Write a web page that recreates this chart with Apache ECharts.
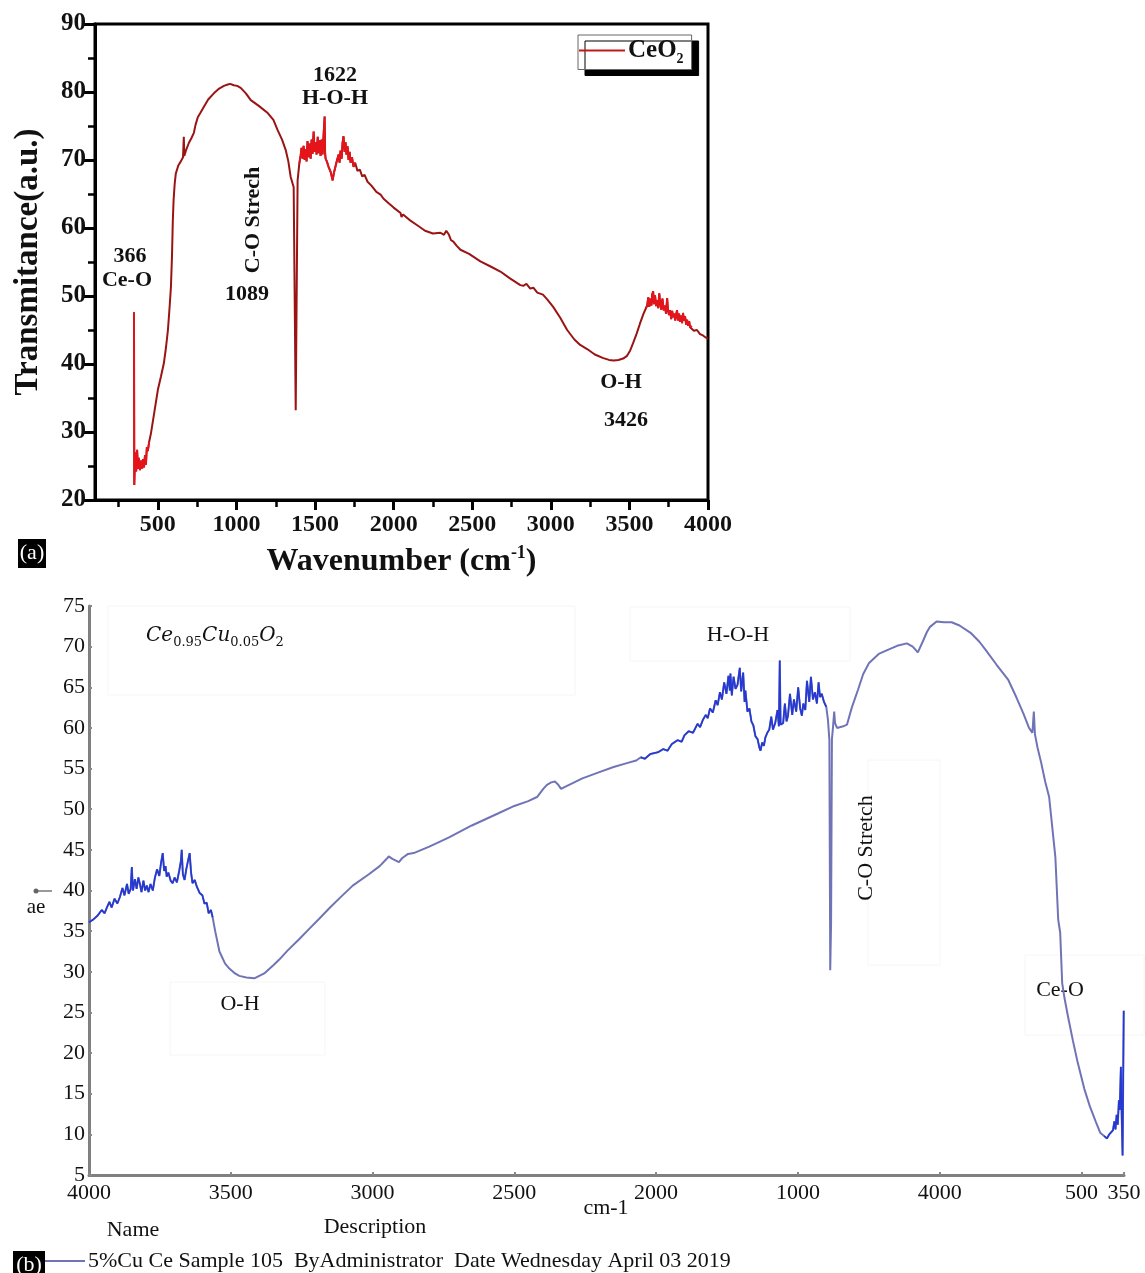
<!DOCTYPE html>
<html><head><meta charset="utf-8">
<script src="https://cdn.jsdelivr.net/npm/echarts@6/dist/echarts.min.js"></script>
<style>html,body{margin:0;padding:0;background:#fff}#c{width:1145px;height:1273px}</style>
</head><body><div id="c"></div>
<script>
// ---------- DATA ----------
// Panel (a): CeO2 spectrum  [wavenumber, transmittance]
const ceO2Points = [
[348,47.6],[350,22.2],[355,27.0],[362,24.2],[368,27.4],[373,24.6],[379,26.2],[386,24.4],[392,25.8],[400,24.6],
[405,26.0],[412,24.8],[418,26.6],[424,25.2],[430,27.8],[436,27.2],[445,28.6],[456,29.8],[478,33.0],[500,36.2],
[520,38.2],[538,40.1],[552,42.5],[564,45.0],[575,48.5],[583,51.3],[590,56.0],[595,61.0],[600,64.1],[607,66.5],
[614,68.0],[630,69.2],[646,69.8],[660,70.4],[665,73.4],[668,70.6],[680,71.5],[697,72.5],[713,73.2],[729,74.0],
[740,75.2],[754,76.3],[770,76.9],[792,77.8],[820,78.9],[856,79.8],[890,80.5],[920,80.9],[945,81.1],[960,81.2],
[983,81.0],[1005,80.9],[1027,80.6],[1060,79.8],[1091,78.8],[1140,78.0],[1199,76.9],[1235,75.9],[1262,74.4],[1290,73.0],
[1313,71.5],[1330,69.8],[1345,67.5],[1364,66.0],[1377,33.2],[1389,67.0],[1400,69.5],[1408,70.6],[1414,71.8],[1421,70.2],
[1427,72.1],[1434,70.0],[1440,71.6],[1446,69.8],[1452,72.8],[1459,70.4],[1465,72.4],[1472,70.2],[1478,73.0],[1484,70.9],
[1491,74.2],[1497,71.2],[1504,72.6],[1510,70.8],[1517,73.4],[1523,71.0],[1529,72.9],[1535,70.6],[1542,73.0],[1548,70.8],
[1555,74.0],[1561,76.4],[1564,71.0],[1567,70.2],[1575,69.8],[1586,69.0],[1600,68.2],[1612,67.0],[1620,68.1],[1631,68.0],
[1640,70.0],[1650,70.8],[1656,69.6],[1662,71.4],[1669,70.2],[1675,72.5],[1681,73.5],[1688,71.2],[1694,72.6],[1700,70.8],
[1707,72.0],[1713,70.0],[1720,71.2],[1726,69.6],[1735,70.4],[1745,69.0],[1755,69.6],[1770,68.4],[1785,68.6],[1800,67.6],
[1815,67.8],[1834,66.8],[1860,66.2],[1890,65.3],[1917,64.9],[1936,64.3],[1970,63.6],[2000,63.0],[2044,62.2],[2050,61.6],
[2060,62.0],[2100,61.2],[2150,60.4],[2200,59.6],[2250,59.2],[2298,59.3],[2320,59.0],[2335,59.6],[2342,59.8],[2352,59.0],
[2365,58.2],[2380,58.0],[2400,57.4],[2425,56.8],[2480,56.2],[2552,55.1],[2620,54.3],[2679,53.6],[2740,52.6],[2806,51.6],
[2825,51.5],[2845,51.8],[2869,51.1],[2890,51.2],[2914,50.5],[2950,50.2],[2977,49.5],[3015,48.4],[3060,46.8],[3104,45.0],
[3150,43.6],[3187,42.8],[3231,42.2],[3280,41.4],[3330,40.9],[3370,40.6],[3400,40.5],[3430,40.6],[3460,40.8],[3485,41.2],
[3505,42.0],[3524,43.1],[3545,44.4],[3568,46.0],[3590,47.4],[3605,48.2],[3613,48.6],[3620,49.8],[3626,48.4],[3632,49.6],
[3640,48.6],[3645,50.2],[3651,50.7],[3656,48.8],[3663,50.1],[3670,48.5],[3676,49.4],[3683,48.2],[3690,50.4],[3695,49.0],
[3702,48.0],[3710,49.6],[3718,47.9],[3726,48.6],[3733,47.4],[3740,49.7],[3745,48.0],[3752,47.2],[3759,47.9],[3766,46.6],
[3772,47.8],[3778,46.9],[3785,47.4],[3791,46.4],[3797,47.2],[3803,47.9],[3809,46.4],[3816,47.4],[3822,46.2],[3829,47.1],
[3835,46.0],[3841,47.5],[3848,46.4],[3854,47.0],[3861,45.8],[3867,46.5],[3874,45.6],[3880,46.3],[3886,45.4],[3898,45.6],
[3910,44.9],[3930,45.0],[3949,44.4],[3968,44.2],[3985,43.9],[4000,43.7]
];
// Panel (b): 5% Cu-doped CeO2 spectrum  [wavenumber, transmittance]
const cuCePoints = [
[4000,36.1],[3986,36.4],[3970,36.9],[3955,37.6],[3945,37.2],[3937,37.9],[3928,38.6],[3920,37.9],[3910,39.0],[3900,38.4],
[3891,39.2],[3882,40.3],[3875,39.4],[3866,40.8],[3860,39.6],[3853,40.2],[3849,42.9],[3845,40.0],[3838,41.4],[3832,40.2],
[3826,41.6],[3821,40.9],[3815,39.8],[3808,41.2],[3802,40.0],[3796,40.6],[3790,39.8],[3783,40.8],[3775,40.0],[3768,41.5],
[3760,42.6],[3752,41.8],[3746,43.4],[3740,44.6],[3735,42.4],[3730,43.0],[3726,41.7],[3720,42.2],[3712,41.2],[3705,40.9],
[3698,41.6],[3690,41.0],[3682,42.4],[3676,43.6],[3673,45.0],[3669,42.0],[3663,41.3],[3657,42.6],[3650,43.8],[3645,44.6],
[3640,42.2],[3635,40.9],[3627,41.3],[3620,40.5],[3610,39.7],[3600,39.4],[3593,38.4],[3585,38.5],[3578,37.2],[3570,37.6],
[3564,36.7],[3555,35.0],[3540,32.5],[3520,31.0],[3505,30.4],[3485,29.8],[3470,29.5],[3445,29.3],[3417,29.2],[3382,29.8],
[3350,30.8],[3329,31.5],[3300,32.6],[3259,34.0],[3220,35.4],[3189,36.5],[3150,37.9],[3118,39.0],[3070,40.6],[3013,42.0],
[2975,43.0],[2950,43.9],[2943,44.2],[2930,43.9],[2907,43.5],[2895,44.0],[2875,44.5],[2855,44.6],[2800,45.4],[2732,46.5],
[2650,48.0],[2556,49.5],[2500,50.4],[2451,51.0],[2420,51.5],[2398,52.5],[2385,53.0],[2370,53.3],[2357,53.4],[2345,53.0],
[2335,52.5],[2328,52.4],[2318,52.8],[2307,53.0],[2260,53.8],[2205,54.5],[2150,55.2],[2100,55.7],[2070,56.0],[2054,56.4],
[2040,56.2],[2020,56.8],[1994,57.0],[1975,57.4],[1960,57.2],[1945,58.0],[1924,58.5],[1910,58.3],[1900,59.1],[1885,59.6],
[1870,59.4],[1854,60.5],[1845,60.1],[1835,61.0],[1825,61.6],[1818,61.2],[1810,62.4],[1800,61.9],[1790,63.4],[1783,62.8],
[1775,64.4],[1768,63.5],[1760,65.6],[1752,64.2],[1745,66.4],[1740,64.6],[1738,66.7],[1733,64.0],[1727,66.3],[1720,64.8],
[1713,65.3],[1705,67.4],[1700,64.5],[1693,66.8],[1688,63.2],[1685,64.6],[1678,62.0],[1671,62.4],[1664,60.8],[1657,60.3],
[1650,59.0],[1642,58.6],[1636,57.6],[1632,57.2],[1626,58.2],[1620,57.8],[1615,58.8],[1608,59.4],[1601,59.8],[1594,61.4],
[1588,59.8],[1580,60.6],[1572,62.2],[1567,60.2],[1564,68.3],[1561,60.4],[1552,60.6],[1546,63.0],[1540,60.8],[1535,61.5],
[1528,64.2],[1520,61.6],[1514,63.5],[1506,62.0],[1499,65.0],[1492,62.4],[1486,61.5],[1481,63.0],[1474,62.2],[1468,65.8],
[1460,63.2],[1454,66.3],[1447,63.5],[1440,64.4],[1433,63.0],[1427,65.6],[1422,63.8],[1416,64.2],[1408,63.2],[1400,62.6],
[1394,61.0],[1389,58.5],[1386,30.2],[1383,36.0],[1380,58.6],[1376,60.2],[1372,62.0],[1369,60.6],[1362,60.0],[1355,60.0],
[1340,60.2],[1327,60.4],[1310,62.5],[1288,64.7],[1270,66.6],[1249,68.0],[1215,69.1],[1183,69.6],[1150,70.1],[1116,70.4],
[1095,70.0],[1077,69.3],[1060,70.6],[1045,71.8],[1035,72.4],[1011,73.1],[985,73.0],[958,73.0],[930,72.6],[891,71.7],
[860,70.6],[838,69.6],[800,67.8],[758,65.9],[730,63.8],[705,61.8],[685,60.0],[673,59.4],[668,62.0],[664,59.2],
[655,57.6],[642,55.7],[628,53.4],[614,51.5],[603,47.8],[592,44.1],[582,36.4],[575,34.8],[568,28.6],[560,26.8],
[547,24.4],[530,21.5],[515,19.1],[490,15.6],[470,13.4],[450,11.6],[434,10.2],[420,9.8],[410,9.5],[402,10.0],
[396,9.8],[389,10.5],[384,11.6],[380,10.6],[376,12.4],[372,11.2],[368,14.2],[365,13.0],[361,18.3],[358,12.0],
[355,7.4],[353,16.0],[351,25.2]
];
// noisy (bright-coloured) wavenumber ranges
const ceO2NoiseRanges = [[348,445],[1395,1760],[3605,3900]];
const cuCeNoiseRanges = [[3560,4000],[1400,2060],[350,430]];

// axis ticks / labels
const panelAXTicks = [500,1000,1500,2000,2500,3000,3500,4000];
const panelAXMinorTicks = [250,750,1250,1750,2250,2750,3250,3750];
const panelBTickValues = [4000,3500,3000,2500,2000,1500,1000,500,350];
const panelBTickLabels = ['4000','3500','3000','2500','2000','1000','4000','500','350'];

const seriesAName = 'CeO2';
const seriesBName = '5%Cu Ce Sample 105';
const seriesBLegendText = '5%Cu Ce Sample 105  ByAdministrator  Date Wednesday April 03 2019';

// ---------- CHART ----------
const SERIF = 'Liberation Serif, Times New Roman, serif';
const pick = (pts, ranges) => pts.map(p => ranges.some(r => p[0] >= r[0] && p[0] <= r[1]) ? p : [p[0], '-']);

const txt = (x, y, text, o) => Object.assign({
  type: 'text', x: x, y: y, silent: true,
  style: Object.assign({text: text, fill: '#111', fontFamily: SERIF, fontSize: 22,
    align: 'center', verticalAlign: 'middle', textAlign: 'center', textVerticalAlign: 'middle'}, (o && o.style) || {})
}, o ? {rotation: o.rotation || 0} : {});

const boldA = {fontWeight: 'bold', fontSize: 22};
const faint = {fill: 'none', stroke: '#f6f6f6', lineWidth: 1};

const option = {
  animation: false,
  backgroundColor: '#fff',
  grid: [
    {left: 95, top: 24, width: 613, height: 476, show: true, borderColor: '#000', borderWidth: 3, backgroundColor: 'transparent'},
    {left: 89, top: 606, width: 1035, height: 569}
  ],
  legend: [
    {
      data: [seriesAName], left: 578, top: 35, orient: 'horizontal',
      padding: [3, 8, 3, 1], itemGap: 0, itemWidth: 46, itemHeight: 2, icon: 'rect',
      backgroundColor: '#fff', borderColor: '#666', borderWidth: 1,
      shadowColor: '#000', shadowBlur: 0, shadowOffsetX: 7, shadowOffsetY: 6,
      formatter: () => '{a|CeO}{s|2}',
      textStyle: {padding: [0,0,0,-2], rich: {
        a: {fontFamily: SERIF, fontWeight: 'bold', fontSize: 25, color: '#111', lineHeight: 32},
        s: {fontFamily: SERIF, fontWeight: 'bold', fontSize: 14, color: '#111', lineHeight: 14, verticalAlign: 'bottom'}
      }}
    },
    {
      data: [seriesBName], left: 45, top: 1250, padding: 0, itemWidth: 40, itemHeight: 2, icon: 'rect',
      formatter: () => seriesBLegendText,
      textStyle: {fontFamily: SERIF, fontSize: 22, color: '#111', padding: [0,0,0,-2]}
    }
  ],
  xAxis: [
    {
      type: 'value', gridIndex: 0, min: 100, max: 4000,
      axisLine: {show: true, lineStyle: {color: '#000', width: 3}},
      axisTick: {show: true, customValues: panelAXTicks, length: 10, lineStyle: {color: '#000', width: 3}},
      axisLabel: {customValues: panelAXTicks, formatter: v => String(v), fontFamily: SERIF, fontWeight: 'bold', fontSize: 24, color: '#111', margin: 13},
      splitLine: {show: false},
      name: '{a|Wavenumber (cm}{s|-1}{a|)}', nameLocation: 'middle', nameGap: 44,
      nameTextStyle: {rich: {
        a: {fontFamily: SERIF, fontWeight: 'bold', fontSize: 32, color: '#111', lineHeight: 36},
        s: {fontFamily: SERIF, fontWeight: 'bold', fontSize: 18, color: '#111', lineHeight: 18, verticalAlign: 'top'}
      }}
    },
    {
      type: 'value', gridIndex: 0, min: 100, max: 4000, position: 'bottom',
      axisLine: {show: false},
      axisTick: {show: true, customValues: panelAXMinorTicks, length: 7, lineStyle: {color: '#000', width: 2.5}},
      axisLabel: {show: false}, splitLine: {show: false}
    },
    {
      type: 'value', gridIndex: 1, min: 350, max: 4000, inverse: true,
      axisLine: {show: true, lineStyle: {color: '#808080', width: 3}},
      axisTick: {show: true, inside: true, customValues: panelBTickValues, length: 3, lineStyle: {color: '#888', width: 2}},
      axisLabel: {customValues: panelBTickValues, formatter: v => panelBTickLabels[panelBTickValues.indexOf(v)],
        fontFamily: SERIF, fontSize: 22, color: '#111', margin: 7},
      splitLine: {show: false}
    }
  ],
  yAxis: [
    {
      type: 'value', gridIndex: 0, min: 20, max: 90, interval: 10,
      axisLine: {show: true, lineStyle: {color: '#000', width: 3}},
      axisTick: {show: true, length: 12, lineStyle: {color: '#000', width: 3}},
      minorTick: {show: true, splitNumber: 2, length: 7, lineStyle: {color: '#000', width: 2.5}},
      axisLabel: {formatter: v => String(v), fontFamily: SERIF, fontWeight: 'bold', fontSize: 25, color: '#111', margin: 9},
      splitLine: {show: false}, minorSplitLine: {show: false},
      name: 'Transmitance(a.u.)', nameLocation: 'middle', nameGap: 50,
      nameTextStyle: {fontFamily: SERIF, fontWeight: 'bold', fontSize: 33, color: '#111'}
    },
    {
      type: 'value', gridIndex: 1, min: 5, max: 75, interval: 5,
      axisLine: {show: true, lineStyle: {color: '#808080', width: 3}},
      axisTick: {show: true, inside: true, length: 3, lineStyle: {color: '#888', width: 2}},
      axisLabel: {fontFamily: SERIF, fontSize: 22, color: '#111', margin: 4},
      splitLine: {show: false}
    }
  ],
  series: [
    {name: seriesAName, type: 'line', xAxisIndex: 0, yAxisIndex: 0, data: ceO2Points, symbol: 'none',
      lineStyle: {color: '#9a1414', width: 2}, itemStyle: {color: '#c41818'}, z: 3},
    {name: 'CeO2 noise', type: 'line', xAxisIndex: 0, yAxisIndex: 0, data: pick(ceO2Points, ceO2NoiseRanges), symbol: 'none',
      lineStyle: {color: '#e5141a', width: 1.8}, itemStyle: {color: '#e5141a'}, z: 4},
    {name: seriesBName, type: 'line', xAxisIndex: 2, yAxisIndex: 1, data: cuCePoints, symbol: 'none',
      lineStyle: {color: '#7074b6', width: 2}, itemStyle: {color: '#7074b6'}, z: 3},
    {name: 'CuCe noise', type: 'line', xAxisIndex: 2, yAxisIndex: 1, data: pick(cuCePoints, cuCeNoiseRanges), symbol: 'none',
      lineStyle: {color: '#2438d4', width: 1.6}, itemStyle: {color: '#2438d4'}, z: 4}
  ],
  graphic: [
    // faint annotation boxes (panel b)
    {type: 'rect', shape: {x: 108, y: 606, width: 467, height: 89}, style: faint, silent: true},
    {type: 'rect', shape: {x: 630, y: 607, width: 220, height: 54}, style: faint, silent: true},
    {type: 'rect', shape: {x: 170, y: 982, width: 155, height: 73}, style: faint, silent: true},
    {type: 'rect', shape: {x: 868, y: 760, width: 72, height: 205}, style: faint, silent: true},
    {type: 'rect', shape: {x: 1025, y: 955, width: 119, height: 80}, style: faint, silent: true},
    // panel (a) annotations
    txt(130, 256, '366', {style: boldA}),
    txt(127, 280, 'Ce-O', {style: boldA}),
    txt(253, 220, 'C-O Strech', {style: boldA, rotation: Math.PI / 2}),
    txt(247, 294, '1089', {style: boldA}),
    txt(335, 75, '1622', {style: boldA}),
    txt(335, 98, 'H-O-H', {style: boldA}),
    txt(621, 382, 'O-H', {style: boldA}),
    txt(626, 420, '3426', {style: boldA}),
    // (a) tag
    {type: 'rect', shape: {x: 18, y: 539, width: 28, height: 29}, style: {fill: '#000'}, silent: true},
    txt(32, 553, '(a)', {style: {fill: '#fff', fontSize: 22}}),
    // panel (b) annotations
    {type: 'text', x: 146, y: 636, silent: true, style: {
      text: '{i|Ce}{s|0.95}{i|Cu}{s|0.05}{i|O}{s|2}', align: 'left', verticalAlign: 'middle', textAlign: 'left', textVerticalAlign: 'middle',
      rich: {
        i: {fontFamily: 'DejaVu Serif, serif', fontStyle: 'italic', fontSize: 20, fill: '#111', color: '#111', lineHeight: 26},
        s: {fontFamily: 'DejaVu Serif, serif', fontSize: 13, fill: '#111', color: '#111', lineHeight: 13, verticalAlign: 'bottom'}
      }}},
    txt(738, 635, 'H-O-H'),
    txt(866, 848, 'C-O Stretch', {rotation: Math.PI / 2}),
    txt(240, 1004, 'O-H'),
    txt(1060, 990, 'Ce-O'),
    txt(36, 907, 'ae', {style: {fontSize: 21}}),
    {type: 'line', shape: {x1: 36, y1: 891, x2: 52, y2: 891}, style: {stroke: '#777', lineWidth: 1.5}, silent: true},
    {type: 'circle', shape: {cx: 36, cy: 891, r: 2.5}, style: {fill: '#666'}, silent: true},
    txt(606, 1208, 'cm-1'),
    txt(133, 1230, 'Name'),
    txt(375, 1227, 'Description'),
    // (b) tag
    {type: 'rect', shape: {x: 13, y: 1251, width: 32, height: 24}, style: {fill: '#000'}, silent: true},
    txt(29, 1265, '(b)', {style: {fill: '#fff', fontSize: 22}})
  ]
};

const chart = echarts.init(document.getElementById('c'), null, {renderer: 'canvas'});
chart.setOption(option);
</script></body></html>
